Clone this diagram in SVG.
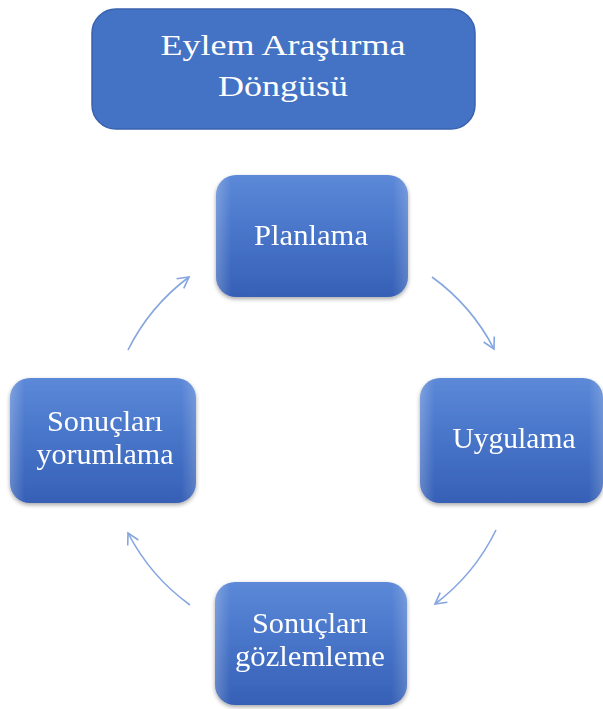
<svg xmlns="http://www.w3.org/2000/svg" width="603" height="709" viewBox="0 0 603 709">
<style>
.lbl{font-family:"Liberation Serif","Times New Roman",serif;font-size:30px;fill:#ffffff;text-anchor:middle}
.conn{fill:none;stroke:#86A6E0;stroke-width:1.6;marker-end:url(#ah)}
.hl{fill:none;stroke:#A9C6F5;stroke-width:4;stroke-linecap:round;opacity:0.55;filter:url(#bl)}
</style>
<defs>
<linearGradient id="g" x1="0" y1="0" x2="0" y2="1">
<stop offset="0" stop-color="#5C89D8"/>
<stop offset="0.5" stop-color="#4774C8"/>
<stop offset="1" stop-color="#3660B6"/>
</linearGradient>
<linearGradient id="side" x1="0" y1="0" x2="1" y2="0">
<stop offset="0" stop-color="#ffffff" stop-opacity="0.22"/>
<stop offset="0.08" stop-color="#ffffff" stop-opacity="0"/>
<stop offset="0.92" stop-color="#ffffff" stop-opacity="0"/>
<stop offset="1" stop-color="#ffffff" stop-opacity="0.18"/>
</linearGradient>
<filter id="sh" x="-10%" y="-10%" width="120%" height="125%">
<feDropShadow dx="0" dy="2" stdDeviation="2" flood-color="#000" flood-opacity="0.35"/>
</filter>
<filter id="bl" x="-200%" y="-10%" width="500%" height="120%">
<feGaussianBlur stdDeviation="1.2"/>
</filter>
<marker id="ah" markerWidth="14" markerHeight="14" refX="12" refY="7" orient="auto" markerUnits="userSpaceOnUse">
<path d="M1,1 L12,7 L1,13" fill="none" stroke="#86A6E0" stroke-width="1.6"/>
</marker>
</defs>

<g id="title">
<rect x="92" y="9" width="383" height="120" rx="24" fill="#4472C4" stroke="#3A63AE" stroke-width="1.5"/>
<text class="lbl" x="283" y="55" textLength="245" lengthAdjust="spacingAndGlyphs">Eylem Araştırma</text>
<text class="lbl" x="283" y="96" textLength="130" lengthAdjust="spacingAndGlyphs">Döngüsü</text>
</g>

<g id="connectors">
<path class="conn" d="M432,277 A205,205 0 0 1 494,349"/>
<path class="conn" d="M496,530 A205,205 0 0 1 435,604"/>
<path class="conn" d="M190,605 A205,205 0 0 1 128,533"/>
<path class="conn" d="M128,350 A205,205 0 0 1 189,277"/>
</g>

<g id="planlama" filter="url(#sh)">
<rect x="216" y="175" width="192" height="122" rx="20" fill="url(#g)"/>
<rect x="216" y="175" width="192" height="122" rx="20" fill="url(#side)"/>
<path class="hl" d="M231,195 V277"/>
<path class="hl" d="M394,195 V277" opacity="0.35"/>
<text class="lbl" x="311" y="245" textLength="114" lengthAdjust="spacingAndGlyphs">Planlama</text>
</g>

<g id="uygulama" filter="url(#sh)">
<rect x="420" y="378" width="183" height="125" rx="20" fill="url(#g)"/>
<rect x="420" y="378" width="183" height="125" rx="20" fill="url(#side)"/>
<path class="hl" d="M435,398 V483"/>
<text class="lbl" x="514" y="448" textLength="123" lengthAdjust="spacingAndGlyphs">Uygulama</text>
</g>

<g id="yorumlama" filter="url(#sh)">
<rect x="10" y="378" width="186" height="125" rx="20" fill="url(#g)"/>
<rect x="10" y="378" width="186" height="125" rx="20" fill="url(#side)"/>
<path class="hl" d="M25,398 V483"/>
<path class="hl" d="M182,398 V483" opacity="0.35"/>
<text class="lbl" x="105" y="431" textLength="116" lengthAdjust="spacingAndGlyphs">Sonuçları</text>
<text class="lbl" x="105" y="464" textLength="137" lengthAdjust="spacingAndGlyphs">yorumlama</text>
</g>

<g id="gozlemleme" filter="url(#sh)">
<rect x="215" y="582" width="192" height="123" rx="20" fill="url(#g)"/>
<rect x="215" y="582" width="192" height="123" rx="20" fill="url(#side)"/>
<path class="hl" d="M230,602 V685"/>
<path class="hl" d="M393,602 V685" opacity="0.35"/>
<text class="lbl" x="310" y="633" textLength="116" lengthAdjust="spacingAndGlyphs">Sonuçları</text>
<text class="lbl" x="310" y="666" textLength="150" lengthAdjust="spacingAndGlyphs">gözlemleme</text>
</g>
</svg>
